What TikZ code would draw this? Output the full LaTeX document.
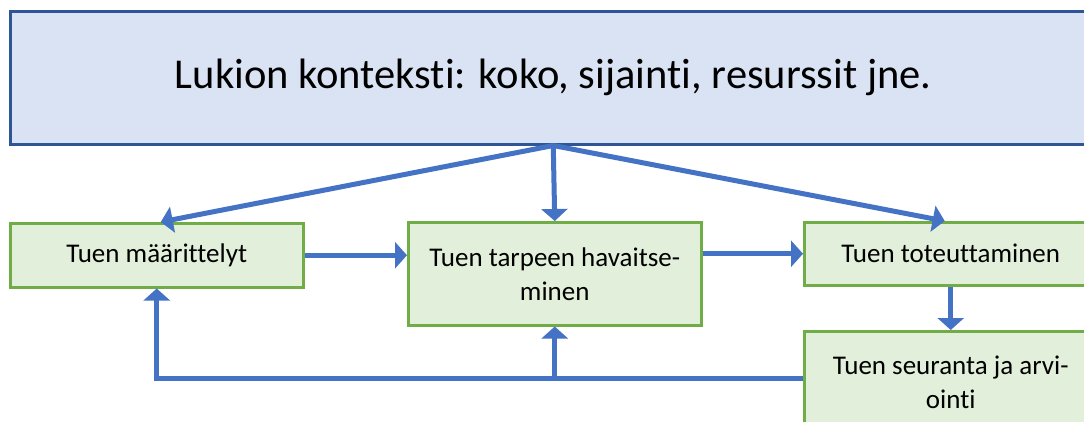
\documentclass[tikz,border=0pt]{standalone}
\usepackage{fontspec}
\setmainfont{Carlito}[Ligatures={NoCommon}]
\usetikzlibrary{arrows.meta,calc}
\definecolor{topfill}{HTML}{DAE3F3}
\definecolor{topdraw}{HTML}{2F5597}
\definecolor{gfill}{HTML}{E2EFDA}
\definecolor{gdraw}{HTML}{70AD47}
\definecolor{arr}{HTML}{4472C4}
\tikzset{
  topbox/.style={draw=topdraw, fill=topfill, line width=2.5pt, anchor=north west, inner sep=0pt, font=\fontsize{42.5}{46}\selectfont},
  gbox/.style={draw=gdraw, fill=gfill, line width=2.5pt, anchor=north west, minimum width=293pt, inner sep=0pt, align=center, font=\fontsize{27}{34}\selectfont},
  conn/.style={draw=arr, line width=5pt, -{Triangle[width=26pt,length=12pt]}}
}
\begin{document}
\begin{tikzpicture}[x=1pt,y=-1pt]
\useasboundingbox (0,0) rectangle (1084,421);
\clip (0,0) rectangle (1084,421);
\node[topbox, minimum width=1086pt, minimum height=133pt] (b0) at (9,10) {Lukion konteksti: koko, sijainti, resurssit jne.};
\node[gbox, minimum height=64pt] (b1) at (9,222) {Tuen määrittelyt};
\node[gbox, minimum height=103pt] (b2) at (407,221) {Tuen tarpeen havaitse-\\minen};
\node[gbox, minimum height=63pt] (b3) at (803,221) {Tuen toteuttaminen};
\node[gbox, minimum height=103pt] (b4) at (803,330) {Tuen seuranta ja arvi-\\ointi};
\draw[conn] (b0.south) -- ($(b1.north)+(4,0)$);
\draw[conn] (b0.south) -- (b2.north);
\draw[conn] (b0.south) -- ($(b3.north)+(-6,0)$);
\draw[conn] (b1.east) -- (b1.east -| b2.west);
\draw[conn] (b2.east |- b3.west) -- (b3.west);
\draw[conn] (b3.south) -- (b4.north);
\draw[conn] ($(b4.west)+(0,-4)$) -| (b1.south);
\draw[conn] ($(b2.south |- b4.west)+(0,-4)$) -- (b2.south);
\end{tikzpicture}
\end{document}
